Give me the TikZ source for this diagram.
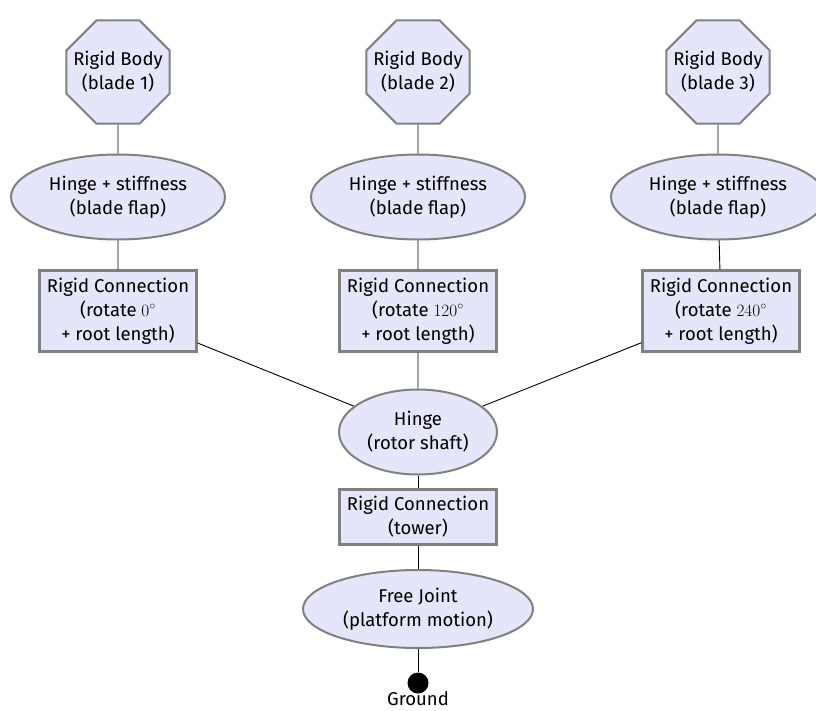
\documentclass[tikz,border=0pt]{standalone}
\usepackage{fontspec}
\setmainfont{Fira Sans}
\usetikzlibrary{shapes.geometric}
\definecolor{lavender}{HTML}{E6E6FA}
\definecolor{rimgray}{HTML}{808080}
\tikzset{
  every node/.style={font=\fontsize{18.5}{24}\selectfont},
  body/.style={regular polygon, regular polygon sides=8, draw=rimgray, fill=lavender,
    line width=2pt, minimum size=112pt, inner sep=-12pt, align=center},
  joint/.style={ellipse, draw=rimgray, fill=lavender, line width=2pt,
    minimum height=85pt, inner sep=1pt, align=center},
  rigid/.style={rectangle, draw=rimgray, fill=lavender, line width=3pt,
    inner xsep=7pt, inner ysep=7pt, align=center},
  link/.style={draw=black, line width=0.9pt}
}
\begin{document}
\begin{tikzpicture}[x=1pt,y=-1pt]
  \useasboundingbox (0,0) rectangle (816,710);

  % blades
  \node[body] (body1) at (118,72) {Rigid Body\\(blade 1)};
  \node[body] (body2) at (418,72) {Rigid Body\\(blade 2)};
  \node[body] (body3) at (718,72) {Rigid Body\\(blade 3)};

  \node[joint, minimum width=214pt] (flap1) at (118,197) {Hinge + stiffness\\(blade flap)};
  \node[joint, minimum width=214pt] (flap2) at (418,197) {Hinge + stiffness\\(blade flap)};
  \node[joint, minimum width=214pt] (flap3) at (718,197) {Hinge + stiffness\\(blade flap)};

  \node[rigid] (root1) at (118,311) {Rigid Connection\\(rotate $0^\circ$\\+ root length)};
  \node[rigid] (root2) at (418,311) {Rigid Connection\\(rotate $120^\circ$\\+ root length)};
  \node[rigid] (root3) at (721,311) {Rigid Connection\\(rotate $240^\circ$\\+ root length)};

  % hub and tower
  \node[joint, minimum width=158pt] (shaft) at (418,432) {Hinge\\(rotor shaft)};
  \node[rigid] (tower) at (418,517) {Rigid Connection\\(tower)};
  \node[joint, minimum width=230pt, minimum height=78pt] (platform) at (418,609) {Free Joint\\(platform motion)};
  \node[circle, fill=black, inner sep=0pt, minimum size=21pt,
    label={[label distance=-6pt]below:Ground}] (ground) at (418,683) {};

  \draw[link] (body1) -- (flap1) -- (root1) -- (shaft);
  \draw[link] (body2) -- (flap2) -- (root2) -- (shaft);
  \draw[link] (body3) -- (flap3) -- (root3) -- (shaft);
  \draw[link] (shaft) -- (tower) -- (platform) -- (ground);
\end{tikzpicture}
\end{document}
